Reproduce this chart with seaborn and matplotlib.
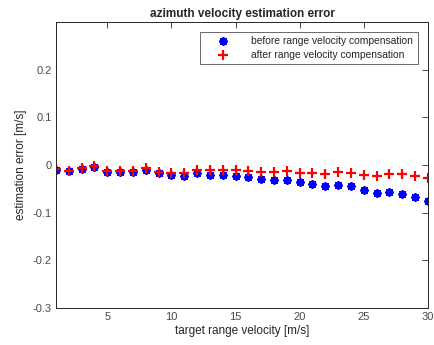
import numpy as np
import pandas as pd
import matplotlib
matplotlib.use("Agg")
import matplotlib.pyplot as plt
import seaborn as sns

velocity = list(range(1, 31))
before_comp = [-0.0094, -0.012, -0.008, -0.005, -0.0136, -0.015, -0.015, -0.010, -0.017, -0.0205,
               -0.022, -0.017, -0.020, -0.021, -0.022, -0.0256, -0.030, -0.032, -0.031, -0.035,
               -0.039, -0.043, -0.0415, -0.0436, -0.053, -0.058, -0.056, -0.060, -0.0675, -0.0744]
after_comp = [-0.008, -0.0115, -0.006, -0.0025, -0.0115, -0.013, -0.0115, -0.0067, -0.014, -0.016,
              -0.016, -0.0094, -0.0094, -0.0094, -0.010, -0.0115, -0.0136, -0.0136, -0.013, -0.0157,
              -0.017, -0.0185, -0.014, -0.0157, -0.020, -0.022, -0.019, -0.019, -0.0235, -0.028]
series_names = ["before range velocity compensation", "after range velocity compensation"]
x_ticks = [5, 10, 15, 20, 25, 30]
y_ticks = [-0.3, -0.2, -0.1, 0, 0.1, 0.2]
y_tick_labels = ["-0.3", "-0.2", "-0.1", "0", "0.1", "0.2"]

sns.set_style("white")
plt.rcParams['font.family'] = ['Liberation Sans', 'DejaVu Sans']

df = pd.DataFrame({
    "v": velocity * 2,
    "err": before_comp + after_comp,
    "series": [series_names[0]] * len(velocity) + [series_names[1]] * len(velocity),
})

fig = plt.figure(figsize=(4.34, 3.45), dpi=100)
ax = fig.add_axes([0.129, 0.107, 0.857, 0.829])

sub_b = df[df.series == series_names[0]]
sub_a = df[df.series == series_names[1]]
sns.scatterplot(data=sub_b, x="v", y="err", ax=ax, marker=(8, 2, 0), s=22,
                color=(0, 0, 1), edgecolor=(0, 0, 1), linewidth=1.7, label=series_names[0])
sns.scatterplot(data=sub_a, x="v", y="err", ax=ax, marker="+", s=48,
                color=(1, 0, 0), linewidth=1.6, label=series_names[1])

ax.set_xlim(1, 30)
ax.set_ylim(-0.3, 0.3)
ax.set_xticks(x_ticks)
ax.set_yticks(y_ticks)
ax.set_yticklabels(y_tick_labels)
ax.tick_params(direction="in", top=True, right=True, length=4, width=0.6,
               labelsize=8, pad=3)
ax.tick_params(labelcolor="#4a4a4a", color="#262626")
for sp in ax.spines.values():
    sp.set_linewidth(0.7)
    sp.set_color("#262626")
ax.set_xlabel("target range velocity [m/s]", fontsize=8.5, color="#262626", labelpad=2)
ax.set_ylabel("estimation error [m/s]", fontsize=8.5, color="#262626", labelpad=4)
ax.set_title("azimuth velocity estimation error", fontsize=8.5, fontweight="bold", pad=4)

leg = ax.legend(loc="upper right", fontsize=7.4, frameon=True, fancybox=False,
                edgecolor="#262626", borderpad=0.45, handletextpad=0.9, handlelength=3.6,
                labelspacing=0.35,
                bbox_to_anchor=(0.972, 0.967), markerscale=1.0, borderaxespad=0)
leg.get_frame().set_linewidth(0.6)

fig.savefig("out.png", dpi=100)
